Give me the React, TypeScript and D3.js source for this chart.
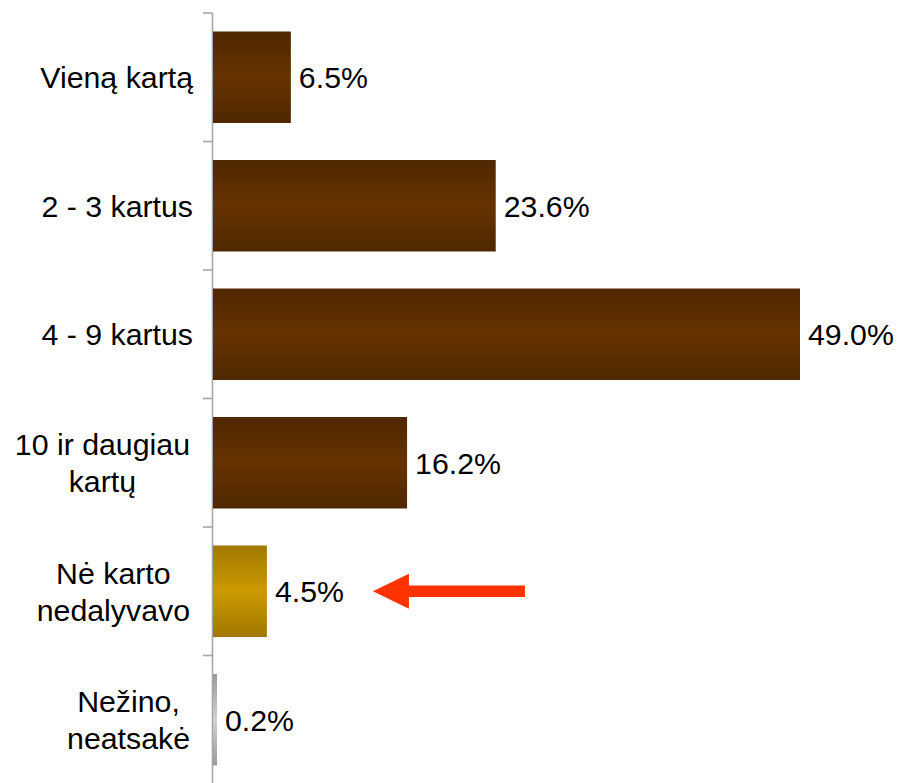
import React, { useEffect, useRef } from "react";
import * as d3 from "d3";

const categories: string[][] = [
  ["Vieną kartą"],
  ["2 - 3 kartus"],
  ["4 - 9 kartus"],
  ["10 ir daugiau", "kartų"],
  ["Nė karto", "nedalyvavo"],
  ["Nežino,", "neatsakė"],
];
const values: number[] = [6.5, 23.6, 49.0, 16.2, 4.5, 0.2];
const valueLabels: string[] = ["6.5%", "23.6%", "49.0%", "16.2%", "4.5%", "0.2%"];
const highlightIndex = 4;

const W = 897;
const H = 783;
const FONT = "'Liberation Sans', Arial, sans-serif";
const FS = 30.3;

const gradients = [
  { id: "gBrown", edge: "#4f2700", mid: "#663300" },
  { id: "gGold", edge: "#a07800", mid: "#cc9900" },
  { id: "gGray", edge: "#9a9a9a", mid: "#d0d0d0" },
];
const gradFor = (i: number) => (i < 4 ? "gBrown" : i === 4 ? "gGold" : "gGray");

export default function App() {
  const ref = useRef<SVGSVGElement | null>(null);

  useEffect(() => {
    const svg = d3.select(ref.current);
    svg.selectAll("*").remove();

    const defs = svg.append("defs");
    gradients.forEach((g) => {
      const lg = defs
        .append("linearGradient")
        .attr("id", g.id)
        .attr("x1", 0)
        .attr("y1", 0)
        .attr("x2", 0)
        .attr("y2", 1);
      lg.append("stop").attr("offset", "0%").attr("stop-color", g.edge);
      lg.append("stop").attr("offset", "50%").attr("stop-color", g.mid);
      lg.append("stop").attr("offset", "100%").attr("stop-color", g.edge);
    });

    const idx = d3.range(categories.length).map(String);
    const y = d3
      .scaleBand<string>()
      .domain(idx)
      .range([13, 784])
      .paddingInner(0.288)
      .paddingOuter(0.144);
    const x = d3.scaleLinear().domain([0, d3.max(values)!]).range([213, 800]);
    const step = y.step();
    const x0 = x(0);

    // axis
    const ax = svg.append("g");
    ax.append("line")
      .attr("x1", x0 - 0.5)
      .attr("x2", x0 - 0.5)
      .attr("y1", 13)
      .attr("y2", H)
      .attr("stroke", "#a6a6a6")
      .attr("stroke-width", 1.6);
    d3.range(categories.length + 1).forEach((i) => {
      const ty = 13 + i * step;
      ax.append("line")
        .attr("x1", x0 - 10)
        .attr("x2", x0 - 0.5)
        .attr("y1", ty)
        .attr("y2", ty)
        .attr("stroke", "#a6a6a6")
        .attr("stroke-width", 1.6);
    });

    // bars
    svg
      .append("g")
      .selectAll("rect")
      .data(values)
      .join("rect")
      .attr("x", x0)
      .attr("y", (_, i) => y(String(i))!)
      .attr("width", (d) => Math.max(4, x(d) - x0))
      .attr("height", y.bandwidth())
      .attr("fill", (_, i) => `url(#${gradFor(i)})`);

    // value labels
    svg
      .append("g")
      .selectAll("text")
      .data(values)
      .join("text")
      .attr("x", (d) => Math.max(x0 + 4, x(d)) + 8)
      .attr("y", (_, i) => y(String(i))! + y.bandwidth() / 2)
      .attr("dy", "0.36em")
      .attr("font-family", FONT)
      .attr("font-size", FS)
      .attr("fill", "#000")
      .text((_, i) => valueLabels[i]);

    // category labels
    const lineH = 37;
    categories.forEach((lines, i) => {
      const cy = y(String(i))! + y.bandwidth() / 2;
      const rightEdge = lines.length > 1 ? 190 : 193;
      const g = svg.append("g");
      const texts = lines.map((l, j) =>
        g
          .append("text")
          .attr("font-family", FONT)
          .attr("font-size", FS)
          .attr("fill", "#000")
          .attr("text-anchor", "middle")
          .attr("y", cy + (j - (lines.length - 1) / 2) * lineH)
          .attr("dy", "0.36em")
          .text(l)
      );
      const widths = texts.map((t) => (t.node() as SVGTextElement).getComputedTextLength());
      const maxW = Math.max(...widths);
      texts.forEach((t) => t.attr("x", rightEdge - maxW / 2));
    });

    // arrow annotation
    const hy = y(String(highlightIndex))! + y.bandwidth() / 2;
    const tipX = x(values[highlightIndex]) + 106;
    const endX = tipX + 152;
    const headL = 36;
    const headH = 17.5;
    const shaftH = 5.8;
    const p = d3.path();
    p.moveTo(tipX, hy);
    p.lineTo(tipX + headL, hy - headH);
    p.lineTo(tipX + headL, hy - shaftH);
    p.lineTo(endX, hy - shaftH);
    p.lineTo(endX, hy + shaftH);
    p.lineTo(tipX + headL, hy + shaftH);
    p.lineTo(tipX + headL, hy + headH);
    p.closePath();
    svg.append("path").attr("d", p.toString()).attr("fill", "#ff3300");
  }, []);

  return (
    <div style={{ position: "absolute", left: 0, top: 0 }}>
      <svg ref={ref} width={W} height={H} style={{ display: "block", background: "#fff" }} />
    </div>
  );
}
